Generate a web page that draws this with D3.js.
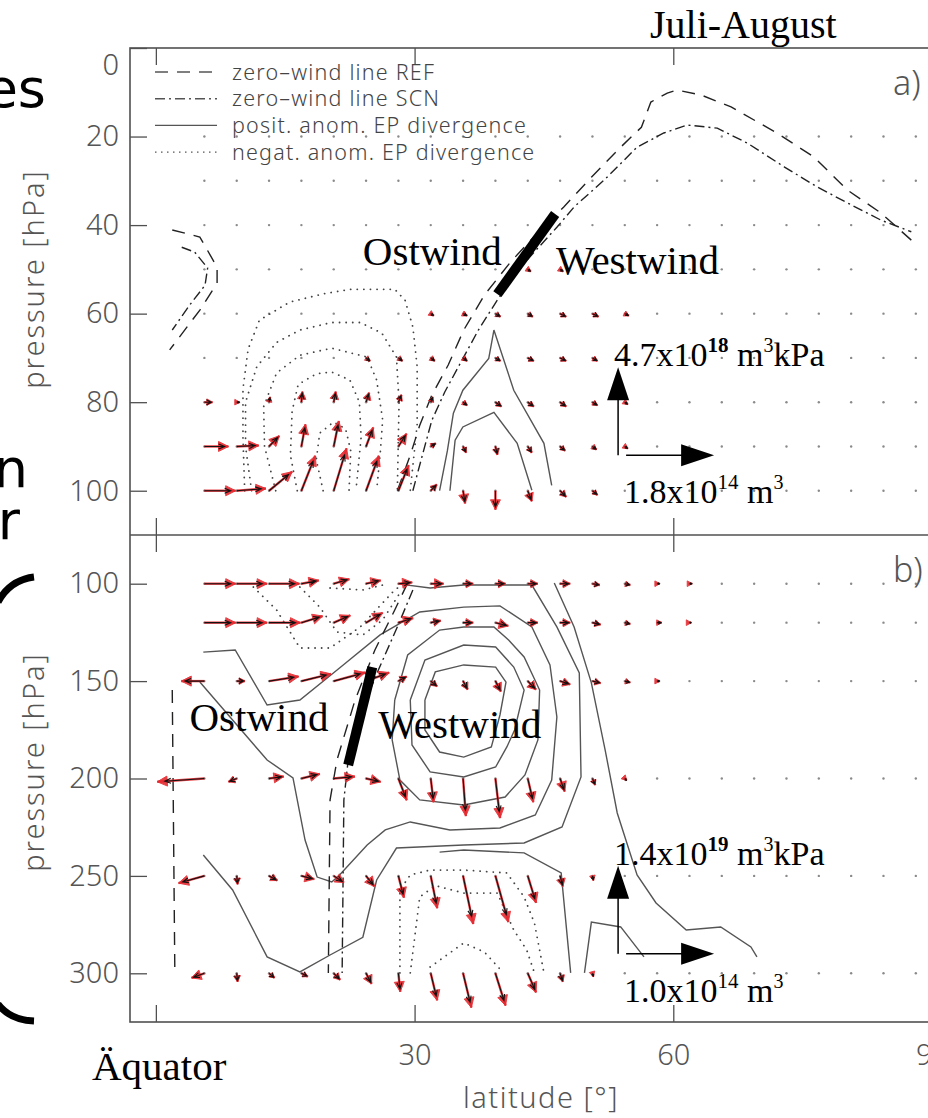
<!DOCTYPE html>
<html>
<head>
<meta charset="utf-8">
<script src="https://cdn.jsdelivr.net/npm/d3@7"></script>
<style>
  body { margin: 0; background: #fff; }
  svg { display: block; }
</style>
</head>
<body>
<svg id="chart"></svg>
<script>
//constants
const W = 928, H = 1118;
const axisColor = "#505050";
const lineColor = "#555";

//flux grid latitudes (deg N)
const gridLats = [5.625, 9.375, 13.125, 16.875, 20.625, 24.375, 28.125, 31.875, 35.625, 39.375, 43.125, 46.875,
    50.625, 54.375, 58.125, 61.875, 65.625, 69.375, 73.125, 76.875, 80.625, 84.375, 88.125];
const levelsA = [20, 30, 40, 50, 60, 70, 80, 90, 100];
const levelsB = [100, 120, 150, 200, 250, 300];

//EP flux vectors [lat, p, Fphi (1e13 m3), Fz]; Fz in 1e17 m3kPa (a) and 1e18 m3kPa (b)
const fluxA = [
    [5.625,100,6.1,0],[9.375,100,5.7,1.1],[13.125,100,4.5,9.7],[16.875,100,2.7,17.8],[20.625,100,2.5,21.6],
    [24.375,100,2.5,17.8],[28.125,100,2.0,13.0],[31.875,100,1.2,3.2],[35.625,100,0.4,-6.5],[39.375,100,0,-9.7],
    [43.125,100,0.8,-5.4],[46.875,100,1.2,-3.2],[50.625,100,1.0,-2.2],
    [5.625,90,4.7,0],[9.375,90,4.3,0.5],[13.125,90,2.0,5.4],[16.875,90,0.8,11.3],[20.625,90,1.0,13.0],
    [24.375,90,1.4,9.7],[28.125,90,1.6,6.5],[31.875,90,1.0,1.6],[35.625,90,0.6,-3.2],[39.375,90,0.4,-4.3],
    [43.125,90,0.8,-3.2],[46.875,90,1.0,-2.2],[50.625,90,0.8,-1.6],[54.375,90,0.6,-1.1],
    [5.625,80,1.6,0],[9.375,80,0.6,0],[13.125,80,0.2,2.7],[16.875,80,0.2,5.4],[20.625,80,0.4,5.4],
    [24.375,80,0.6,4.9],[28.125,80,0.6,3.8],[31.875,80,0.4,2.7],[35.625,80,0.8,-1.6],[39.375,80,1.2,-2.2],
    [43.125,80,1.2,-2.2],[46.875,80,1.2,-2.2],[50.625,80,1.0,-1.6],[54.375,80,0.6,-1.1],
    [24.375,70,0.8,-1.6],[28.125,70,0.8,-1.6],[31.875,70,0.8,-1.6],[35.625,70,0.8,-1.6],[39.375,70,1.0,-1.6],
    [43.125,70,1.2,-1.6],[46.875,70,1.2,-1.6],[50.625,70,1.0,-1.6],
    [31.875,60,0.6,-1.1],[35.625,60,0.8,-1.1],[39.375,60,1.0,-1.6],[43.125,60,1.0,-1.6],[46.875,60,1.2,-1.6],
    [50.625,60,1.2,-1.6],[54.375,60,0.8,-1.1],
    [43.125,50,0.6,-1.1],[46.875,50,0.6,-1.1]
];
const fluxB = [
    [5.625,100,3.4,0],[9.375,100,3.3,0],[13.125,100,3.3,0],[16.875,100,1.9,0.5],[20.625,100,1.7,0.7],
    [24.375,100,1.6,0.5],[28.125,100,1.5,0.2],[31.875,100,1.4,0],[35.625,100,1.1,0],[39.375,100,1.1,0],
    [43.125,100,1.1,0],[46.875,100,1.1,0],[50.625,100,0.8,-0.2],[54.375,100,0.6,-0.2],[58.125,100,0.3,0],
    [61.875,100,0.3,0],
    [5.625,120,3.4,0],[9.375,120,3.3,0],[13.125,120,3.4,0],[16.875,120,2.3,1.0],[20.625,120,1.8,1.1],
    [24.375,120,1.8,1.5],[28.125,120,1.6,0.7],[31.875,120,1.1,0.3],[35.625,120,1.1,0],[39.375,120,1.4,-0.5],
    [43.125,120,1.1,0],[46.875,120,1.1,0],[50.625,120,0.9,-0.3],[54.375,120,0.6,-0.2],[58.125,120,0.5,0],
    [61.875,120,0.2,0],
    [5.625,150,-2.5,0],[9.375,150,0.9,0],[13.125,150,3.2,0.7],[16.875,150,3.2,1.1],[20.625,150,3.4,1.3],
    [24.375,150,2.5,1.3],[28.125,150,0.9,0.7],[31.875,150,0.7,-0.8],[35.625,150,0.5,-1.3],[39.375,150,0.6,-1.6],
    [43.125,150,0.9,-1.3],[46.875,150,1.1,-0.5],[50.625,150,0.9,-0.3],[54.375,150,0.6,-0.2],[58.125,150,0.3,0],
    [5.625,200,-5.1,-0.5],[9.375,200,-0.9,-0.5],[13.125,200,1.6,0.3],[16.875,200,2.0,0.7],[20.625,200,2.3,0.3],
    [24.375,200,1.6,-0.5],[28.125,200,0.9,-3.3],[31.875,200,0.3,-3.6],[35.625,200,0.3,-5.7],[39.375,200,0.5,-6.0],
    [43.125,200,0.6,-3.6],[46.875,200,0.5,-2.0],[50.625,200,0.3,-1.0],[54.375,200,0.2,-0.3],
    [5.625,250,-2.8,-1.1],[9.375,250,0.1,-1.3],[13.125,250,0.9,-0.7],[16.875,250,1.4,-0.5],[20.625,250,1.1,-1.0],
    [24.375,250,0.9,-1.6],[28.125,250,0.6,-3.3],[31.875,250,0.7,-4.9],[35.625,250,1.1,-7.3],[39.375,250,1.4,-7.0],
    [43.125,250,0.9,-4.1],[46.875,250,0.3,-1.6],[50.625,250,0.1,-0.7],
    [5.625,300,-1.4,-0.7],[9.375,300,0.1,-1.3],[13.125,300,0.6,-0.7],[16.875,300,0.7,-0.5],[20.625,300,0.7,-1.0],
    [24.375,300,0.6,-1.6],[28.125,300,0.2,-2.8],[31.875,300,0.7,-4.1],[35.625,300,0.9,-5.2],[39.375,300,1.1,-4.9],
    [43.125,300,0.9,-2.9],[46.875,300,0.3,-1.3],[50.625,300,0.1,-0.5]
];

//reference arrows (value, label)
const refA = {u: 18, v: 47, uLabel: ["1.8x10", "14", " m", "3", ""], vLabel: ["4.7x10", "18", " m", "3", "kPa"]};
const refB = {u: 10, v: 14, uLabel: ["1.0x10", "14", " m", "3", ""], vLabel: ["1.4x10", "19", " m", "3", "kPa"]};

//zero-wind lines [lat, p]
const refLineA = [[28.0,100],[29.5,92.0],[30.6,85.2],[32.0,78.4],[33.9,71.6],[35.7,63.7],[38.1,55.8],[41.1,48.4],
    [44.0,42.3],[47.3,35.9],[50.5,29.2],[53.9,22.4],[56.3,17.9],[57.4,12.2],[59.3,10.2],[60.4,9.5],[63.2,10.6],
    [66.7,13.3],[72.0,19.2],[76.3,24.6],[80.2,32.1],[84.1,37.3],[87.6,43.4]];
const scnLineA = [[29.8,100],[30.9,92.0],[32.0,84.1],[33.5,77.7],[35.5,70.5],[37.4,63.7],[39.6,56.9],[42.8,48.4],
    [46.5,40.5],[48.5,35.9],[52.0,29.8],[55.8,22.4],[58.9,19.2],[61.6,17.4],[65.1,18.1],[68.6,21.5],[72.9,26.9],
    [76.7,31.4],[80.2,35.0],[84.1,38.9],[87.6,41.5]];
const refLineA2 = [[1.9,41.1],[5.1,42.7],[7.1,49.5],[7.1,53.1],[5.1,59.2],[1.6,68.2]];
const scnLineA2 = [[3.0,45.0],[4.5,46.1],[6.0,49.7],[5.7,53.6],[3.9,58.1],[1.9,63.7]];
const refLineB = [[29.2,99.6],[27.7,113.5],[25.4,134.0],[23.1,159.7],[21.0,190.5],[20.2,211.0],[20.0,299.8]];
const scnLineB = [[29.8,103.2],[28.1,121.2],[25.8,144.3],[23.9,164.8],[22.3,190.5],[21.8,211.0],[21.6,299.8]];
const refLineB2 = [[1.9,154.6],[2.2,299.8]];

//EP divergence anomaly contours [lat, p]
const posA = [
    [[32.9,100],[33.8,91],[34.5,82.5],[35.6,77.3],[38.6,70.1],[39.2,63.7],[41.5,77.3],[45.0,89.3],[45.9,98.8]],
    [[34.1,100],[34.7,88.6],[35.6,85.6],[39.2,82.3],[41.9,89.3],[43.6,99.9]]
];
const negA = [
    [[10.3,100],[10.1,88],[10.1,77],[10.7,68],[12.0,61.5],[15.5,57.4],[19.5,55.5],[22.6,54.5],[27.7,54.5],[28.9,57],[29.8,63],[30.3,72],[30.3,85],[29.5,100]],
    [[11.1,100],[10.4,90],[10.4,80],[11.7,72],[14.0,66.5],[16.7,63.7],[20.4,62],[23.7,62],[26.2,64.4],[27.9,69.8],[28.2,80],[28.0,100]],
    [[13.9,100],[12.6,90],[12.5,81],[14.0,73.4],[16.7,69.4],[20.4,67.8],[24.5,69.8],[25.6,75],[26.3,84],[26.0,92],[25.6,100]],
    [[16.4,100],[15.6,92],[15.8,82],[16.5,76],[18.6,73.6],[20.4,73.2],[22.5,75],[23.6,80],[23.8,88],[23.2,100]],
    [[19.4,100],[18.6,93],[19.0,87],[20.6,84.5],[22.0,86],[22.6,91],[22.4,100]]
];
const posB = [
    [[31.2,159.7],[32.4,145.3],[35.7,141.7],[39.4,142.8],[40.6,150.5],[39.9,167.4],[38.9,183.8],[35.7,189.0],[32.9,186.4],[31.2,175.1],[31.2,159.7]],
    [[29.5,159.7],[31.2,139.2],[35.7,131.5],[39.4,132.5],[41.5,142.8],[42.7,154.6],[41.6,175.1],[40.7,183.8],[39.4,194.1],[35.7,199.2],[31.8,196.6],[29.7,182.8],[29.5,159.7]],
    [[27.7,159.7],[29.2,136.6],[32.9,123.8],[35.7,122.2],[39.2,122.2],[40.9,128.9],[42.7,137.6],[44.5,154.6],[44.3,180.2],[42.8,198.2],[40.5,209.5],[35.7,213.6],[30.6,211.0],[28.3,200.8],[27.4,180.2],[27.7,159.7]],
    [[5.5,135.1],[9.2,134.0],[12.9,162.3],[16.7,159.7],[21.3,143.3],[26.0,126.3],[30.6,114.5],[35.7,112.0],[39.9,111.4],[43.6,122.2],[45.7,141.7],[46.5,168.4],[45.9,200.8],[44.0,218.7],[39.9,225.4],[34.1,226.4],[29.5,222.3],[26.6,226.4],[24.5,234.1],[21.3,249.5],[20.4,253.1],[18.7,250.6],[17.3,231.6],[15.9,199.7],[12.9,190.5],[8.9,170.0],[5.1,150.5]],
    [[5.5,239.3],[8.9,257.2],[12.9,291.6],[16.7,299.3],[20.2,290.6],[24.0,281.5],[25.6,252.1],[27.9,235.7],[35.7,234.1],[42.7,233.1],[47.1,224.9],[49.3,199.2],[49.1,145.8],[46.5,122.2],[43.6,100.7],[39.3,100.7],[35.7,100.7],[31.8,102.2],[28.3,100.2]],
    [[32.9,237.8],[35.7,236.7],[42.7,238.2],[47.0,248.5],[48.1,299.8]],
    [[46.2,99.6],[48.5,122.2],[50.5,150.9],[52.1,185.4],[53.5,217.7],[55.8,249.5],[58.0,263.9],[61.5,277.8],[65.5,276.2],[69.0,286.5],[69.7,291.6]],
    [[49.7,299.8],[50.5,273.7],[53.9,276.2],[56.6,291.6]]
];
const negB = [
    [[11.3,101.7],[14.0,113.5],[16.7,133.0],[20.2,133.0],[23.7,122.2],[27.7,103.2],[28.9,99.6]],
    [[16.7,101.7],[19.0,112.0],[21.0,124.8],[24.0,126.3],[26.3,118.6],[28.3,104.8]],
    [[20.2,102.2],[24.0,103.2],[26.3,100.7]],
    [[28.3,299.8],[28.3,257.2],[29.5,249.5],[31.8,247.0],[35.7,247.0],[40.7,248.5],[42.7,260.8],[43.9,274.2],[45.0,299.8]],
    [[29.5,299.8],[30.6,260.8],[32.4,255],[35.7,258.8],[39.6,258.8],[41.5,277.8],[43.0,288.0],[43.9,299.8]],
    [[31.8,296.8],[35.7,284.4],[38.1,289.1],[40.0,298.3]]
];

//legend
const legendItems = [
    {label: "zero\u2013wind line REF", dash: "13,9"},
    {label: "zero\u2013wind line SCN", dash: "10,4,2,4"},
    {label: "posit. anom. EP divergence", dash: null},
    {label: "negat. anom. EP divergence", dash: "1.5,4.5"}
];

//scales
const x = d3.scaleLinear().domain([-3, 90]).range([130, 932]);
const yA = d3.scaleLinear().domain([0, 110]).range([48, 535]);
const yB = d3.scaleLinear().domain([75, 325]).range([535, 1022]);

//canvas
const svg = d3.select("#chart")
    .attr("width", W)
    .attr("height", H)
    .style("background-color", "#fff");

const sans = "'DejaVu Sans', sans-serif";
const idl = "'Noto Sans', 'Open Sans', sans-serif";
const serif = "'Liberation Serif', 'Times New Roman', serif";

//decorations from the slide behind the figure
svg.append("text").attr("x", 46).attr("y", 107).attr("text-anchor", "end")
    .style("font-family", sans).style("font-size", "54px").text("es");
const frag = svg.append("text").attr("text-anchor", "end")
    .style("font-family", sans).style("font-size", "54px");
frag.append("tspan").attr("x", 28).attr("y", 487).text("n");
frag.append("tspan").attr("x", 20).attr("y", 539).text("r");
svg.append("path")
    .attr("d", "M34,577 Q10,580 -2,602 M-2,1004 Q10,1020 34,1021")
    .attr("fill", "none").attr("stroke", "#000").attr("stroke-width", 7);

//panels
function drawPanel(y, levels, flux, ref, kx, ky, cfg) {
    const g = svg.append("g");
    const [p0, p1] = y.domain();
    const line = d3.line().x(d => x(d[0])).y(d => y(d[1]));

    //grid dots
    levels.forEach(p => {
        g.selectAll(null).data(gridLats).enter().append("circle")
            .attr("cx", d => x(d)).attr("cy", y(p)).attr("r", 1.2)
            .attr("fill", "#8a8a8a");
    });

    //contours
    g.selectAll(".pos").data(cfg.pos).enter().append("path")
        .attr("d", line).attr("fill", "none")
        .attr("stroke", lineColor).attr("stroke-width", 1.4);
    g.selectAll(".neg").data(cfg.neg).enter().append("path")
        .attr("d", line).attr("fill", "none")
        .attr("stroke", "#444").attr("stroke-width", 1.8)
        .attr("stroke-linecap", "round")
        .attr("stroke-dasharray", "0.1,6.5");

    //zero-wind lines
    cfg.ref.forEach(l => g.append("path").attr("d", line(l)).attr("fill", "none")
        .attr("stroke", "#222").attr("stroke-width", 1.4).attr("stroke-dasharray", "13,9"));
    cfg.scn.forEach(l => g.append("path").attr("d", line(l)).attr("fill", "none")
        .attr("stroke", "#222").attr("stroke-width", 1.4).attr("stroke-dasharray", "10,4,2,4"));

    //vectors
    function geom(d, f) {
        const x0 = x(d[0]), y0 = y(d[1]);
        const dx = d[2] * kx * f, dy = -d[3] * ky * f;
        const len = Math.hypot(dx, dy);
        return {x0, y0, x1: x0 + dx, y1: y0 + dy, len, ux: dx / (len || 1), uy: dy / (len || 1)};
    }
    function shaft(d, f) {
        const a = geom(d, f);
        return a.len < 0.5 ? "" : `M${a.x0},${a.y0}L${a.x1},${a.y1}`;
    }
    function head(d, f, hl, hw, closed) {
        const a = geom(d, f);
        if (a.len < 0.5) return "";
        const h = Math.max(Math.min(hl, a.len * 0.7), closed ? 5 : 0);
        const w = Math.max(Math.min(hw, a.len * 0.4), closed ? 2.8 : 0);
        const bx = a.x1 - a.ux * h, by = a.y1 - a.uy * h;
        const l = [bx - a.uy * w, by + a.ux * w], r = [bx + a.uy * w, by - a.ux * w];
        return closed ? `M${a.x1},${a.y1}L${l[0]},${l[1]}L${r[0]},${r[1]}Z`
            : `M${l[0]},${l[1]}L${a.x1},${a.y1}L${r[0]},${r[1]}`;
    }
    g.selectAll(".vr").data(flux).enter().append("path")
        .attr("d", d => shaft(d, 1.05))
        .attr("stroke", "#e52a30").attr("stroke-width", 2.4).attr("opacity", 0.9);
    g.selectAll(".vh").data(flux).enter().append("path")
        .attr("d", d => head(d, 1.05, 10, 5, true))
        .attr("fill", "#e52a30").attr("stroke", "#e52a30").attr("stroke-width", 1).attr("opacity", 0.9);
    g.selectAll(".vb").data(flux).enter().append("path")
        .attr("d", d => shaft(d, 0.88) + head(d, 0.88, 6, 2.5, false))
        .attr("fill", "none").attr("stroke", "#111").attr("stroke-width", 1.1);

    //reference arrows
    const ax = x(cfg.refAt[0]), ay = y(cfg.refAt[1]);
    const vLen = ref.v * ky, uLen = ref.u * kx;
    g.append("line").attr("x1", ax).attr("y1", ay).attr("x2", ax).attr("y2", ay - vLen + 30)
        .attr("stroke", "#000").attr("stroke-width", 1.5);
    g.append("path").attr("d", `M${ax},${ay - vLen}L${ax - 11},${ay - vLen + 33}L${ax + 11},${ay - vLen + 33}Z`)
        .attr("fill", "#000");
    g.append("line").attr("x1", ax + 8).attr("y1", ay).attr("x2", ax + 8 + uLen - 30).attr("y2", ay)
        .attr("stroke", "#000").attr("stroke-width", 1.5);
    g.append("path").attr("d", `M${ax + 8 + uLen},${ay}L${ax + 8 + uLen - 33},${ay - 11}L${ax + 8 + uLen - 33},${ay + 11}Z`)
        .attr("fill", "#000");

    function refText(parts, tx, ty, boldExp) {
        const t = g.append("text").attr("x", tx).attr("y", ty)
            .style("font-family", serif).style("font-size", "34px").attr("fill", "#000");
        t.append("tspan").text(parts[0]);
        t.append("tspan").attr("dy", -14).style("font-size", "21px")
            .style("font-weight", boldExp ? "bold" : "normal").text(parts[1]);
        t.append("tspan").attr("dy", 14).text(parts[2]);
        t.append("tspan").attr("dy", -14).style("font-size", "20px").text(parts[3]);
        t.append("tspan").attr("dy", 14).text(parts[4]);
    }
    refText(ref.vLabel, ax - 4, ay - vLen - 1, true);
    refText(ref.uLabel, ax + 6, ay + 48, false);

    //thick wind-regime marker
    g.append("path").attr("d", line(cfg.bar)).attr("stroke", "#000").attr("stroke-width", 10);
    g.append("text").attr("x", x(cfg.ost[0])).attr("y", y(cfg.ost[1]))
        .style("font-family", serif).style("font-size", "41px").text("Ostwind");
    g.append("text").attr("x", x(cfg.west[0])).attr("y", y(cfg.west[1]))
        .style("font-family", serif).style("font-size", "41px").text("Westwind");

    //axes
    const left = g.append("g").attr("transform", `translate(${x(-3)},0)`);
    left.call(d3.axisLeft(y).tickValues(cfg.minorY).tickSize(-8).tickFormat(""));
    left.call(d3.axisLeft(y).tickValues(cfg.majorY).tickSize(-17).tickPadding(11));
    const top = g.append("g").attr("transform", `translate(0,${y(p0)})`);
    top.call(d3.axisTop(x).tickValues(d3.range(0, 91, 5)).tickSize(-8).tickFormat(""));
    top.call(d3.axisTop(x).tickValues([0, 30, 60, 90]).tickSize(-17).tickFormat(""));
    const bottom = g.append("g").attr("transform", `translate(0,${y(p1)})`);
    bottom.call(d3.axisBottom(x).tickValues(d3.range(0, 91, 5)).tickSize(-8).tickFormat(""));
    bottom.call(d3.axisBottom(x).tickValues([0, 30, 60, 90]).tickSize(-17).tickPadding(22)
        .tickFormat(d => cfg.xLabels && d > 0 ? d : ""));
    g.selectAll(".domain").remove();
    g.selectAll(".tick line").attr("stroke", axisColor).attr("stroke-width", 1.3);
    g.selectAll(".tick text").style("font-family", idl).style("font-weight", 300)
        .style("font-size", "29px").attr("fill", "#555");
    left.selectAll(".tick text").filter(d => d === 0).attr("dy", "0.9em");

    g.append("text")
        .attr("transform", `translate(44,${cfg.titleY}) rotate(-90)`)
        .attr("text-anchor", "middle")
        .style("font-family", idl).style("font-weight", 300).style("font-size", "29px")
        .style("letter-spacing", "2px").attr("fill", "#555")
        .text("pressure [hPa]");

    g.append("text").attr("x", 893).attr("y", y(p0) + 47)
        .style("font-family", idl).style("font-weight", 300).style("font-size", "34px").attr("fill", "#555")
        .text(cfg.tag);
    return g;
}

drawPanel(yA, levelsA, fluxA, refA, 88 / refA.u, 88 / refA.v, {
    pos: posA, neg: negA, ref: [refLineA, refLineA2], scn: [scnLineA, scnLineA2],
    refAt: [53.6, 92], bar: [[39.6, 55.6], [46.3, 37.5]], ost: [24.0, 49.0], west: [46.4, 51.0],
    minorY: d3.range(0, 111, 2), majorY: [0, 20, 40, 60, 80, 100], titleY: 279, tag: "a)", xLabels: false
});
drawPanel(yB, levelsB, fluxB, refB, 88 / refB.u, 88 / refB.v, {
    pos: posB, neg: negB, ref: [refLineB, refLineB2], scn: [scnLineB],
    refAt: [53.6, 290], bar: [[22.3, 193.1], [25.1, 142.8]], ost: [3.9, 175.8], west: [25.8, 179.4],
    minorY: d3.range(80, 321, 10), majorY: [100, 150, 200, 250, 300], titleY: 762, tag: "b)", xLabels: true
});

//frame
const frame = svg.append("g").attr("fill", "none").attr("stroke", axisColor).attr("stroke-width", 1.6);
frame.append("rect").attr("x", x(-3)).attr("y", yA(0)).attr("width", x(93) - x(-3)).attr("height", yB(325) - yA(0));
frame.append("line").attr("x1", x(-3)).attr("x2", x(93)).attr("y1", yA(110)).attr("y2", yA(110));

//legend
const legend = svg.append("g").attr("transform", "translate(155,72)");
legendItems.forEach((d, i) => {
    const row = legend.append("g").attr("transform", `translate(0,${i * 26.7})`);
    row.append("line").attr("x1", 0).attr("x2", 62).attr("y1", 0).attr("y2", 0)
        .attr("stroke", "#555").attr("stroke-width", d.dash === "1.5,4.5" ? 1.2 : 1.4)
        .attr("stroke-dasharray", d.dash);
    row.append("text").attr("x", 77).attr("y", 0).attr("dy", "0.35em")
        .style("font-family", idl).style("font-weight", 300).style("font-size", "21.5px")
        .style("letter-spacing", "1.2px").attr("fill", "#444")
        .text(d.label);
});

//titles
svg.append("text").attr("x", 650).attr("y", 38)
    .style("font-family", serif).style("font-size", "40px").text("Juli-August");
svg.append("text").attr("x", 92).attr("y", 1080)
    .style("font-family", serif).style("font-size", "41px").text("Äquator");
svg.append("text").attr("x", 541).attr("y", 1108).attr("text-anchor", "middle")
    .style("font-family", idl).style("font-weight", 300).style("font-size", "29px")
    .style("letter-spacing", "1.5px").attr("fill", "#555")
    .text("latitude [°]");
</script>
</body>
</html>
